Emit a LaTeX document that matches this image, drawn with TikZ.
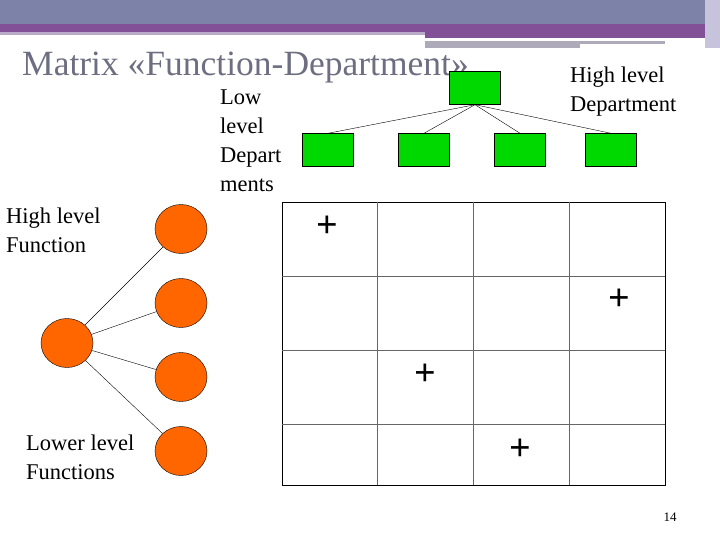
\documentclass[tikz,border=0pt]{standalone}
\usepackage{fontspec}
\usetikzlibrary{shapes.geometric}
\setmainfont{Liberation Serif}
\begin{document}
\begin{tikzpicture}[x=1pt,y=-1pt,
  gbox/.style={draw=black,fill=green!85!black,minimum width=51pt,minimum height=33pt,inner sep=0},
  circ/.style={ellipse,draw=black,fill=orange!80!red,minimum width=52pt,minimum height=49pt,inner sep=0},
  lbl/.style={font=\fontsize{22.5}{29}\selectfont,align=left,inner sep=0},
  plus/.style={font=\fontsize{38}{38}\selectfont\bfseries,inner sep=0}]
\useasboundingbox (0,0) rectangle (720,540);
\fill[fill={rgb,255:red,125;green,131;blue,168}] (0,0) rectangle (720,24);
\fill[fill={rgb,255:red,130;green,80;blue,150}] (0,24) rectangle (720,32);
\fill[fill={rgb,255:red,130;green,80;blue,150}] (425,32) rectangle (705,38);
\fill[fill={rgb,255:red,185;green,170;blue,200}] (0,32) rectangle (425,35);
\fill[fill={rgb,255:red,175;green,170;blue,185}] (425,41) rectangle (665,44);
\fill[fill={rgb,255:red,175;green,170;blue,185}] (425,44) rectangle (580,48);
\fill[fill={rgb,255:red,200;green,195;blue,220}] (705,0) rectangle (720,48);
\node[anchor=west,font=\fontsize{35.5}{36}\selectfont,text={rgb,255:red,110;green,110;blue,130},inner sep=0] (title) at (22,68) {Matrix «Function-Department»};
% grid
\draw[black,thick] (282,202) rectangle (665,485);
\foreach \x in {377,473,569} \draw[black!60] (\x,202) -- (\x,485);
\foreach \y in {276,350,424} \draw[black!60] (282,\y) -- (665,\y);
% tree
\node[gbox] (top) at (475,88) {};
\node[gbox] (d1) at (328,150) {};
\node[gbox] (d2) at (424,150) {};
\node[gbox] (d3) at (520,150) {};
\node[gbox] (d4) at (611,150) {};
\foreach \d in {d1,d2,d3,d4} \draw (top.south) -- (\d.north);
\node[circ] (f0) at (67,343) {};
\node[circ] (f1) at (181,229) {};
\node[circ] (f2) at (181,303) {};
\node[circ] (f3) at (181,377) {};
\node[circ] (f4) at (181,451) {};
\foreach \f in {f1,f2,f3,f4} \draw (f0) -- (\f);
\node[plus] (p1) at (327,227) {+};
\node[plus] (p2) at (619,300) {+};
\node[plus] (p3) at (425,375) {+};
\node[plus] (p4) at (520,450) {+};
\node[lbl,anchor=north west] (hd) at (570,67) {High level\\Department};
\node[lbl,anchor=north west] (ld) at (220,90) {Low\\level\\Depart\\ments};
\node[lbl,anchor=north west] (hf) at (6,208) {High level\\Function};
\node[lbl,anchor=north west] (lf) at (26,435) {Lower level\\Functions};
\node[font=\fontsize{13}{13}\selectfont,inner sep=0] (pg) at (670,517) {14};
\end{tikzpicture}
\end{document}
